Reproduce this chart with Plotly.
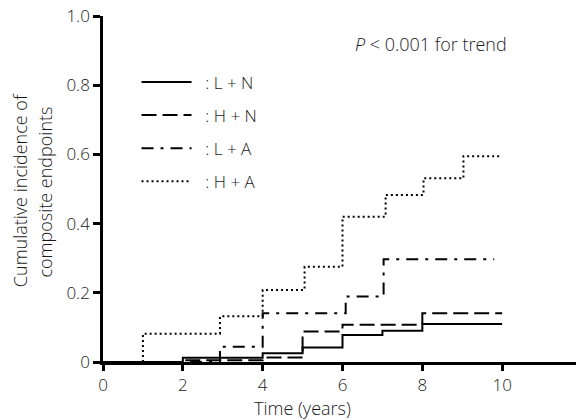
import plotly.graph_objects as go

# step curves (time in years, cumulative incidence)
ln_x = [0, 2, 4, 5, 6, 7, 8, 10]
ln_y = [0, 0.012, 0.025, 0.042, 0.078, 0.09, 0.11, 0.11]

hn_x = [0, 2, 4, 5, 6, 8, 10]
hn_y = [0, 0.005, 0.013, 0.088, 0.108, 0.141, 0.141]

la_x = [0, 2.93, 4, 6.08, 7.03, 9.8]
la_y = [0, 0.044, 0.141, 0.189, 0.297, 0.297]

ha_x = [0, 1, 2.93, 4, 5.05, 6, 7.08, 8.03, 9.03, 10]
ha_y = [0, 0.082, 0.132, 0.208, 0.275, 0.42, 0.483, 0.531, 0.595, 0.595]

names = [': L + N', ': H + N', ': L + A', ': H + A']
dashes = ['solid', '15px,6px', '12px,7px,3px,7px', '2px,3px']

x_ticks = [0, 2, 4, 6, 8, 10, 12]
x_labels = ['0', '2', '4', '6', '8', '10', '']
y_ticks = [0, 0.2, 0.4, 0.6, 0.8, 1.0]
y_labels = ['0', '0.2', '0.4', '0.6', '0.8', '1.0']

FONT = 'Open Sans'
INK = '#1a1a1a'

fig = go.Figure()
series = [(ln_x, ln_y), (hn_x, hn_y), (la_x, la_y), (ha_x, ha_y)]
for i, (xs, ys) in enumerate(series):
  fig.add_trace(go.Scatter(x=xs, y=ys, mode='lines', name='\u00a0\u00a0' + names[i],
                           line=dict(shape='hv', color='black', width=2, dash=dashes[i]),
                           legendgroup=str(i)))

fig.add_annotation(x=8.22, y=0.919, xref='x', yref='y', showarrow=False,
                   xanchor='center', yanchor='middle',
                   text='<i>P</i> < 0.001 for trend',
                   font=dict(family=FONT, size=18, color=INK, weight=300))

# axis titles as annotations so they sit where the reference has them
fig.add_annotation(x=-0.173, y=0.497, xref='paper', yref='paper', showarrow=False,
                   xanchor='center', yanchor='middle',
                   text='Cumulative incidence of', textangle=-90,
                   font=dict(family=FONT, size=18, color=INK, weight=300))
fig.add_annotation(x=-0.121, y=0.49, xref='paper', yref='paper', showarrow=False,
                   xanchor='center', yanchor='middle',
                   text='composite endpoints', textangle=-90,
                   font=dict(family=FONT, size=18, color=INK, weight=300))
fig.add_annotation(x=0.4175, y=-0.133, xref='paper', yref='paper', showarrow=False,
                   xanchor='center', yanchor='middle',
                   text='Time (years)',
                   font=dict(family=FONT, size=18, color=INK, weight=300))

# page body adds an 8px offset, so the figure is 8px smaller on each side
fig.update_layout(
  width=576, height=412,
  margin=dict(l=95, r=2, t=8, b=58),
  plot_bgcolor='white', paper_bgcolor='white',
  font=dict(family=FONT, size=17, color=INK, weight=300),
  showlegend=True,
  legend=dict(x=0.07, y=0.86, xanchor='left', yanchor='top',
              bgcolor='rgba(0,0,0,0)', tracegroupgap=8, itemwidth=50,
              font=dict(family=FONT, size=17, color=INK, weight=300)),
  xaxis=dict(range=[0, 12], tickvals=x_ticks, ticktext=x_labels, automargin=False,
             showgrid=False, zeroline=False, showline=True, linewidth=2.5,
             linecolor='black', ticks='outside', ticklen=6, tickwidth=2.5,
             tickcolor='black', tickfont=dict(size=17), ticklabeloverflow='allow'),
  yaxis=dict(range=[0, 1], tickvals=y_ticks, ticktext=y_labels, automargin=False,
             showgrid=False, zeroline=False, showline=True, linewidth=2.5,
             linecolor='black', ticks='outside', ticklen=7, tickwidth=2.5,
             tickcolor='black', tickfont=dict(size=17), ticklabeloverflow='allow'),
)

fig.write_html('out.html')
